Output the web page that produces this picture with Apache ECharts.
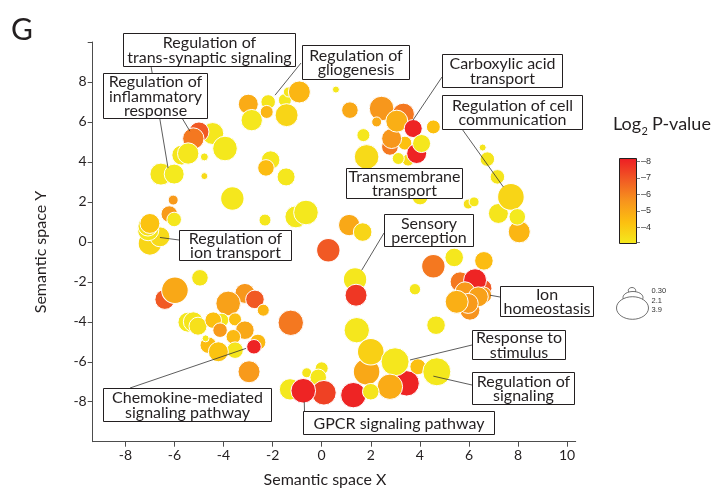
<!DOCTYPE html>
<html>
<head>
<meta charset="utf-8">
<script src="https://cdn.jsdelivr.net/npm/echarts@6/dist/echarts.min.js"></script>
<style>
  html, body { margin: 0; padding: 0; background: #fff; }
  #chart { width: 719px; height: 490px; }
</style>
</head>
<body>
<div id="chart"></div>
<script>
// GO terms in semantic space: coordinates, log10 term size, log2 P-value
const semX = [
  -4.44, -5.00, -5.23, -3.94, -5.70, -5.44, -4.78, -4.78, -6.55, -6.01, -3.64, -6.05,
  -7.28, -6.21, -6.01, -7.00, -6.59, -7.07, -7.08, -7.00,
  -2.99, -2.85, -1.50, -2.18, -2.24, -1.36, -0.91, -1.43, 0.58,
  -2.08, -2.27, -1.45, -2.31, -1.05, -0.64,
  1.12, 1.67, 0.27, 1.36, 1.40,
  1.15, 2.44, 3.33, 2.24, 2.78, 3.52, 3.12, 1.83, 1.70, 3.39, 2.85, 3.06, 3.73, 3.87, 4.07, 4.55, 4.01,
  6.56, 6.75, 7.16, 5.97, 6.21, 7.20, 8.05, 7.71, 7.97,
  4.55, 5.40, 6.61, 3.80, 6.57, 5.64, 6.25, 6.04, 5.76, 5.84, 6.59, 6.38, 5.97, 5.50, 4.66,
  1.43, 3.92, 3.46, 1.29, 1.83, 2.00, 2.99, 2.78, 2.00, 4.69,
  -4.96, -6.39, -5.98, -3.13, -2.72, -2.38, -3.81, -5.45, -5.23, -5.04, -4.07, -4.42, -3.53,
  -4.14, -3.13, -3.60, -2.60, -2.76, -4.62, -4.73, -3.53, -4.21, -2.96, -1.26,
  -0.61, 0.00, -0.14, -1.29, 0.09, -0.75
];
const semY = [
  5.42, 5.50, 5.17, 4.67, 4.34, 4.42, 4.25, 3.29, 3.39, 3.39, 2.17, 2.09,
  0.44, 1.39, 1.12, -0.08, 0.25, 0.59, 0.79, 0.92,
  6.89, 6.09, 7.09, 7.00, 6.50, 7.50, 7.50, 6.34, 7.62,
  4.09, 3.70, 3.25, 1.09, 1.25, 1.47,
  0.84, 0.49, -0.42, -1.88, -2.67,
  6.59, 6.67, 6.39, 6.00, 4.75, 4.09, 4.17, 4.25, 5.34, 4.94, 5.17, 6.04, 5.67, 4.42, 4.92, 5.75, 2.25,
  4.72, 4.14, 3.25, 1.89, 2.00, 1.42, 0.50, 2.25, 1.25,
  -1.22, -0.78, -0.95, -2.37, -2.32, -2.00, -1.92, -3.42, -2.92, -2.50, -2.67, -2.75, -3.08, -3.00, -4.17,
  -4.42, -6.25, -7.08, -7.67, -6.50, -5.50, -6.00, -7.25, -7.50, -6.50,
  -1.80, -2.88, -2.42, -2.58, -2.88, -3.42, -3.08, -4.02, -4.00, -4.22, -3.92, -3.92, -3.88,
  -4.42, -4.42, -4.75, -5.02, -5.25, -5.17, -4.83, -5.42, -5.50, -6.50, -4.05,
  -6.55, -6.33, -6.78, -7.38, -7.55, -7.45
];
const logSize = [
  2.46, 2.17, 2.37, 2.84, 2.17, 2.37, 0.44, 0.30, 2.46, 2.17, 2.66, 0.73,
  0.44, 1.68, 1.39, 2.66, 2.17, 2.37, 2.17, 2.17,
  2.17, 2.37, 1.17, 1.39, 1.17, 0.73, 2.46, 2.60, 0.30,
  1.97, 1.68, 1.89, 1.02, 2.46, 2.84,
  2.37, 1.97, 2.66, 2.66, 2.46,
  1.68, 2.84, 2.46, 0.73, 1.70, 1.02, 1.02, 2.84, 1.17, 1.30, 2.17, 2.46, 1.89, 2.17, 1.89, 1.30, 1.60,
  0.30, 1.39, 1.39, 0.73, 0.73, 2.17, 2.46, 3.12, 1.68,
  2.66, 1.97, 1.97, 0.93, 1.89, 2.17, 2.60, 2.17, 2.17, 2.17, 1.68, 2.17, 2.17, 2.60, 1.97,
  2.95, 1.60, 2.95, 2.95, 3.12, 3.12, 3.33, 2.95, 1.68, 3.33,
  1.68, 2.17, 3.12, 2.17, 1.97, 1.02, 2.84, 2.17, 2.17, 1.89, 1.30, 1.68, 1.17,
  1.39, 1.97, 1.39, 1.60, 1.39, 1.68, 0.30, 1.68, 2.17, 2.46, 2.95,
  0.73, 1.17, 1.68, 2.37, 2.84, 2.84
];
const log2P = [
  -3.1, -6.9, -6.2, -3.05, -3.15, -3.1, -3.1, -3.5, -3.15, -3.0, -3.1, -5.4,
  -6.6, -5.4, -3.1, -3.65, -3.5, -3.15, -3.3, -4.2,
  -4.9, -3.1, -3.05, -3.15, -4.6, -3.15, -4.6, -3.65, -3.1,
  -3.1, -4.4, -3.1, -3.1, -3.05, -3.05,
  -5.0, -3.65, -6.9, -3.1, -7.6,
  -5.0, -5.5, -6.2, -4.9, -6.2, -3.5, -3.1, -3.5, -3.1, -4.3, -5.5, -4.8, -8.0, -8.0, -3.1, -4.3, -3.15,
  -3.15, -3.15, -3.15, -3.3, -3.1, -3.15, -4.6, -3.65, -3.0,
  -6.2, -3.1, -4.4, -3.1, -6.9, -6.2, -8.0, -5.6, -6.2, -5.4, -5.4, -5.2, -5.4, -4.8, -3.1,
  -3.1, -4.3, -8.0, -8.0, -5.0, -3.8, -3.1, -4.9, -3.15, -3.05,
  -3.15, -6.9, -5.0, -5.5, -6.9, -4.6, -5.2, -3.05, -3.15, -3.3, -3.15, -4.3, -4.3,
  -5.4, -5.0, -4.5, -4.5, -8.0, -4.4, -3.1, -3.15, -4.2, -5.4, -6.2,
  -3.15, -3.15, -3.1, -3.05, -7.4, -8.0
];

// Axis ticks and legend keys
const xTicks = [-8, -6, -4, -2, 0, 2, 4, 6, 8, 10];
const yTicks = [-8, -6, -4, -2, 0, 2, 4, 6, 8];
const colorTicks = [-8, -7, -6, -5, -4];
const sizeKeys = [0.30, 2.1, 3.9];

// Cluster annotations
const termLabels = [
  'Regulation of\ntrans-synaptic signaling',
  'Regulation of\ninflammatory\nresponse',
  'Regulation of\ngliogenesis',
  'Carboxylic acid\ntransport',
  'Regulation of cell\ncommunication',
  'Transmembrane\ntransport',
  'Sensory\nperception',
  'Regulation of\nion transport',
  'Ion\nhomeostasis',
  'Response to\nstimulus',
  'Regulation of\nsignaling',
  'Chemokine-mediated\nsignaling pathway',
  'GPCR signaling pathway'
];

// Layout of the annotation boxes (pixels) and where each leader points (data space)
const noteLayout = [
  { box: [123, 33, 172, 33], from: [151, 66], to: [-6.26, 3.69] },
  { box: [103, 73, 104, 45], from: [182, 118], to: [-5.37, 5.54] },
  { box: [302, 45, 107, 34], from: [301, 63], to: [-1.90, 7.34] },
  { box: [442, 54, 120, 33], from: [442, 77], to: [3.72, 6.09] },
  { box: [442, 95, 140, 34], from: [462, 129], to: [7.40, 2.75] },
  { box: [346, 168, 116, 30], from: null, to: null },
  { box: [384, 214, 89, 32], from: [384, 233], to: [1.63, -1.42] },
  { box: [179, 230, 112, 30], from: [179, 240], to: [-6.59, 0.22] },
  { box: [500, 286, 93, 30], from: [500, 297], to: [6.86, -2.67] },
  { box: [472, 330, 93, 29], from: [472, 345], to: [3.60, -5.91] },
  { box: [472, 372, 102, 32], from: [472, 385], to: [4.55, -6.72] },
  { box: [103, 388, 168, 33], from: [130, 388], to: [-3.08, -5.33] },
  { box: [303, 411, 191, 23], from: [304.5, 411], to: [-0.71, -8.0] }
];

const FONT = 'Lato, "Open Sans", sans-serif';
const INK = '#231f20';
const ramp = ['#ed1c24', '#f15a24', '#f7941d', '#fcc010', '#f4ea1e'];
const pMin = -8.17, pMax = -3.0;

const points = semX.map((x, i) => [x, semY[i], logSize[i], log2P[i]]);
const diameter = s => 7 + 6.94 * (s - 0.3);

const chart = echarts.init(document.getElementById('chart'), null, { renderer: 'canvas' });

chart.setOption({
  animation: false,
  backgroundColor: '#fff',
  grid: { left: 92.7, right: 143.3, top: 42, bottom: 48.3, containLabel: false, outerBoundsMode: 'none' },
  xAxis: {
    type: 'value', min: -9.33, max: 10.35,
    axisLine: { show: true, onZero: false, lineStyle: { color: '#4d4d4d', width: 1 } },
    axisTick: { show: true, length: 5, customValues: xTicks, lineStyle: { color: '#4d4d4d' } },
    axisLabel: { customValues: xTicks, fontSize: 14, color: INK, fontFamily: FONT, margin: 7 },
    splitLine: { show: false }
  },
  yAxis: {
    type: 'value', min: -10, max: 10,
    axisLine: { show: true, onZero: false, lineStyle: { color: '#4d4d4d', width: 1 } },
    axisTick: { show: true, length: 5, customValues: yTicks.concat([10]), lineStyle: { color: '#4d4d4d' } },
    axisLabel: { customValues: yTicks, fontSize: 14, color: INK, fontFamily: FONT, margin: 6 },
    splitLine: { show: false }
  },
  visualMap: {
    show: false, type: 'continuous', dimension: 3, seriesIndex: 0,
    min: pMin, max: pMax, inRange: { color: ramp }
  },
  series: [{
    type: 'scatter',
    data: points,
    symbolSize: v => diameter(v[2]),
    itemStyle: { opacity: 1, borderColor: '#ffffff', borderWidth: 1 },
    emphasis: { disabled: true },
    z: 2
  }]
});

// ---- overlay: annotations, axis titles, colour key, size key, panel letter ----
const els = [];
const txt = (x, y, text, size, extra) => Object.assign({ type: 'text', silent: true, x, y,
  style: Object.assign({ text, fontFamily: FONT, fontSize: size, fill: INK,
    align: 'left', verticalAlign: 'middle', textAlign: 'left', textVerticalAlign: 'middle' }, extra && extra.style) },
  extra && extra.el);

noteLayout.forEach(n => {
  if (!n.from) return;
  const p = chart.convertToPixel({ seriesIndex: 0 }, n.to);
  els.push({ type: 'line', silent: true,
    shape: { x1: n.from[0], y1: n.from[1], x2: p[0], y2: p[1] },
    style: { stroke: '#333', lineWidth: 0.8 } });
});
noteLayout.forEach((n, i) => {
  const [x, y, w, h] = n.box;
  els.push({ type: 'rect', silent: true, shape: { x: x + 0.5, y: y + 0.5, width: w, height: h },
    style: { fill: '#fff', stroke: INK, lineWidth: 1 } });
  els.push(txt(x + w / 2 + 0.5, y + h / 2 + 1, termLabels[i], 16,
    { style: { lineHeight: 14.5, align: 'center', textAlign: 'center' } }));
});

// axis titles
els.push(txt(325, 480, 'Semantic space X', 16, { style: { align: 'center', textAlign: 'center' } }));
els.push(txt(41, 252, 'Semantic space Y', 16,
  { style: { align: 'center', textAlign: 'center' }, el: { rotation: Math.PI / 2 } }));

// colour key
const bar = { x: 619.5, y: 158.5, w: 17, h: 85 };
const valToY = v => bar.y + (v - pMin) / (pMax - pMin) * bar.h;
els.push({ type: 'rect', silent: true, shape: { x: bar.x, y: bar.y, width: bar.w, height: bar.h },
  style: { stroke: INK, lineWidth: 1, fill: { type: 'linear', x: 0, y: 0, x2: 0, y2: 1,
    colorStops: ramp.map((c, i) => ({ offset: i / (ramp.length - 1), color: c })) } } });
colorTicks.concat([-3.1]).forEach(v => {
  const y = Math.round(valToY(v)) + 0.5;
  els.push({ type: 'line', silent: true, shape: { x1: bar.x + bar.w, y1: y, x2: bar.x + bar.w + 3.5, y2: y },
    style: { stroke: '#555', lineWidth: 0.8 } });
});
colorTicks.forEach(v => {
  els.push(txt(bar.x + bar.w + 4.5, valToY(v), '\u2013' + Math.abs(v), 9,
    { style: { fontFamily: '"Liberation Sans", Arial, sans-serif', fill: '#333' } }));
});

// colour key title: Log2 P-value with subscript
const ctx = document.createElement('canvas').getContext('2d');
ctx.font = '18px ' + FONT;
const wLog = ctx.measureText('Log').width;
ctx.font = '11px ' + FONT;
const wSub = ctx.measureText('2').width;
const tx = 613, ty = 124;
els.push(txt(tx, ty, 'Log', 18));
els.push(txt(tx + wLog + 0.5, ty + 7, '2', 11));
els.push(txt(tx + wLog + wSub + 4.5, ty, 'P-value', 18));

// size key: nested outlines, each drawn over the previous one
const keyGeom = [
  { cx: 632, cy: 290.5, rx: 3.7, ry: 3 },
  { cx: 633, cy: 297.5, rx: 10, ry: 6 },
  { cx: 632.5, cy: 308, rx: 16, ry: 11.3 }
];
keyGeom.forEach(g => {
  els.push({ type: 'ellipse', silent: true, shape: g, style: { fill: '#fff', stroke: '#333', lineWidth: 0.7 } });
});
const keyLabelY = [290.5, 300.5, 310];
sizeKeys.forEach((s, i) => {
  els.push(txt(651.5, keyLabelY[i], s.toFixed(i === 0 ? 2 : 1), 7.5,
    { style: { fontFamily: '"Liberation Sans", Arial, sans-serif', fill: '#333' } }));
});

// panel letter
els.push(txt(11, 30, 'G', 30));

chart.setOption({ graphic: { elements: els.map(e => Object.assign({ z: 100 }, e)) } });
</script>
</body>
</html>
